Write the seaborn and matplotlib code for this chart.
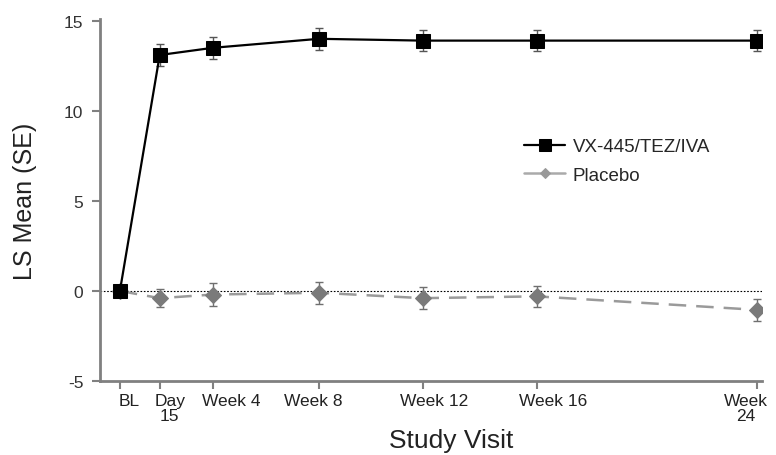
import matplotlib
matplotlib.use("Agg")
import matplotlib.pyplot as plt
import matplotlib.transforms as mtransforms
import seaborn as sns
import pandas as pd
import numpy as np

visits = ["BL", "Day\n15", "Week 4", "Week 8", "Week 12", "Week 16", "Week\n24"]
visit_pos = [0, 1.5, 3.5, 7.5, 11.4, 15.7, 24]
vx_mean = [0, 13.1, 13.5, 14.0, 13.9, 13.9, 13.9]
vx_se = [0, 0.62, 0.6, 0.6, 0.6, 0.6, 0.6]
pl_mean = [0, -0.4, -0.2, -0.1, -0.4, -0.3, -1.05]
pl_se = [0, 0.5, 0.62, 0.6, 0.62, 0.6, 0.6]

sns.set_style("white")
plt.rcParams['font.family'] = ['Liberation Sans', 'DejaVu Sans']

df = pd.DataFrame({
    "pos": visit_pos * 2,
    "mean": vx_mean + pl_mean,
    "group": ["VX-445/TEZ/IVA"] * len(visit_pos) + ["Placebo"] * len(visit_pos),
})

fig = plt.figure(figsize=(7.76, 4.56), dpi=100)
ax = fig.add_axes([100/776, 74/456, 662/776, 362/456])

ax.axhline(0, color="black", lw=0.8, ls=(0, (1.5, 1.5)), zorder=1)

ax.errorbar(visit_pos, pl_mean, yerr=pl_se, fmt="none", ecolor="#6f6f6f",
            elinewidth=1.0, capsize=3, capthick=1.0, zorder=2)
sns.lineplot(data=df[df.group == "Placebo"], x="pos", y="mean", ax=ax,
             color="#9a9a9a", lw=1.8, zorder=3,
             label="Placebo", marker="D", markersize=8,
             markerfacecolor="#7a7a7a", markeredgecolor="#7a7a7a")
ax.lines[-1].set_linestyle((0, (7, 4)))

ax.errorbar(visit_pos, vx_mean, yerr=vx_se, fmt="none", ecolor="#555555",
            elinewidth=1.0, capsize=3, capthick=1.0, zorder=4)
sns.lineplot(data=df[df.group == "VX-445/TEZ/IVA"], x="pos", y="mean", ax=ax,
             color="black", lw=1.6, zorder=5, label="VX-445/TEZ/IVA",
             marker="s", markersize=10, markerfacecolor="black",
             markeredgecolor="black")

ax.set_xlim(-0.75, 24.19)
ax.set_ylim(-5, 15.1)
ax.set_yticks([-5, 0, 5, 10, 15])
ax.set_yticklabels(["-5", "0", "5", "10", "15"], fontsize=12.5, color="#333333")
ax.set_xticks(visit_pos)
ax.set_xticklabels(visits, fontsize=12.5, color="#222222", linespacing=0.95,
                   va="top")
ax.set_xlabel("Study Visit", fontsize=19, color="#222222", labelpad=4, x=0.53)
ax.set_ylabel("LS Mean (SE)", fontsize=18, color="#222222", labelpad=19)

for s in ["top", "right"]:
    ax.spines[s].set_visible(False)
for s in ["left", "bottom"]:
    ax.spines[s].set_color("#808080")
    ax.spines[s].set_linewidth(2)
ax.tick_params(axis="both", which="both", length=6, width=1.5, color="#808080",
               direction="out", bottom=True, left=True)
ax.tick_params(axis="x", pad=3)
ax.tick_params(axis="y", pad=6)

# shift labels horizontally (pixels) to mirror the reference placement
shifts = [9, 10, 18, -6, 12, 16, -11]
for tick, dx in zip(ax.xaxis.get_major_ticks(), shifts):
    lbl = tick.label1
    lbl.set_transform(lbl.get_transform() +
                      mtransforms.ScaledTranslation(dx / 100, 0, fig.dpi_scale_trans))

handles, labels = ax.get_legend_handles_labels()
order = [labels.index("VX-445/TEZ/IVA"), labels.index("Placebo")]
leg = ax.legend([handles[i] for i in order], [labels[i] for i in order],
                frameon=False, fontsize=13.5, loc="upper left",
                bbox_to_anchor=(0.615, 0.717), handlelength=2.2,
                handletextpad=0.4, labelspacing=0.6)
leg.legend_handles[1].set_markersize(5)
leg.legend_handles[1].set_linestyle("-")
leg.legend_handles[1].set_color("#aaaaaa")
leg.legend_handles[1].set_markerfacecolor("#999999")
leg.legend_handles[1].set_markeredgecolor("#999999")
leg.legend_handles[0].set_markersize(8)

fig.savefig("out.png", dpi=100)
